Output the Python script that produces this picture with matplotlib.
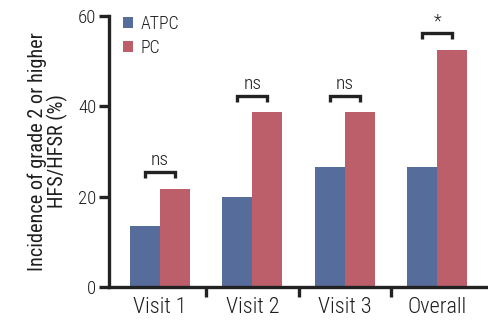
import matplotlib
matplotlib.use("Agg")
import matplotlib.pyplot as plt
from matplotlib import font_manager as fm
import numpy as np

categories = ["Visit 1", "Visit 2", "Visit 3", "Overall"]
atpc = [13.6, 20.0, 26.5, 26.5]
pc = [21.7, 38.7, 38.7, 52.4]
sig_labels = ["ns", "ns", "ns", "*"]
sig_heights = [25.5, 42.3, 42.3, 56.2]
yticks = [0, 20, 40, 60]
series_names = ["ATPC", "PC"]

names = {f.name for f in fm.fontManager.ttflist}
fam = None
for cand in ["Roboto Condensed", "Liberation Sans Narrow", "Arial Narrow"]:
    if cand in names:
        fam = cand
        break
if fam is None:
    fam = "DejaVu Sans"
plt.rcParams["font.family"] = [fam, "DejaVu Sans"]
plt.rcParams["font.weight"] = "light"

blue = "#566c9b"
red = "#bd5f6a"
txt = "#1e1e1e"
dark = "#222222"

fig = plt.figure(figsize=(4.88, 3.27), dpi=100)
ax = fig.add_axes([109/488, 1-287/327, (487-109)/488, (287-16)/327])

x = np.arange(len(categories))
w = 0.325
ax.bar(x - w/2, atpc, w, color=blue, label=series_names[0])
ax.bar(x + w/2, pc, w, color=red, label=series_names[1])

for xi, lab, h in zip(x, sig_labels, sig_heights):
    ax.plot([xi - w/2, xi - w/2, xi + w/2, xi + w/2], [h - 1.4, h, h, h - 1.4],
            color=dark, lw=2.4, solid_joinstyle="miter", solid_capstyle="butt", clip_on=False)
    ax.text(xi, h + 0.6, lab, ha="center", va="bottom", fontsize=14 if lab == "ns" else 13,
            color=txt)

ax.set_xlim(-0.553, 3.54)
ax.set_ylim(0, 60)
ax.set_yticks(yticks)
ax.set_yticklabels([str(t) for t in yticks], fontsize=13.5, color=txt)
ax.set_xticks([0.5, 1.5, 2.5])
ax.set_xticks(x, minor=True)
ax.set_xticklabels([])
ax.set_xticklabels(categories, minor=True, fontsize=16, color=txt)
ax.tick_params(axis="x", which="major", direction="out", length=7, width=2.4, color=dark)
ax.tick_params(axis="x", which="minor", length=0, pad=7.5)
ax.tick_params(axis="y", direction="out", length=7, width=2.4, color=dark, pad=2)
for s in ["top", "right"]:
    ax.spines[s].set_visible(False)
for s in ["left", "bottom"]:
    ax.spines[s].set_linewidth(2.4)
    ax.spines[s].set_color(dark)

ax.set_ylabel("Incidence of grade 2 or higher\nHFS/HFSR (%)", fontsize=14.6, color=txt,
              linespacing=1.0, labelpad=7)

leg = ax.legend(loc="upper left", bbox_to_anchor=(123/488, 1-15/327),
                bbox_transform=fig.transFigure, frameon=False, fontsize=12.8,
                handlelength=0.58, handleheight=0.58, handletextpad=0.4, labelspacing=0.32,
                borderaxespad=0, borderpad=0)
for t in leg.get_texts():
    t.set_color(txt)

fig.savefig("out.png", dpi=100)
